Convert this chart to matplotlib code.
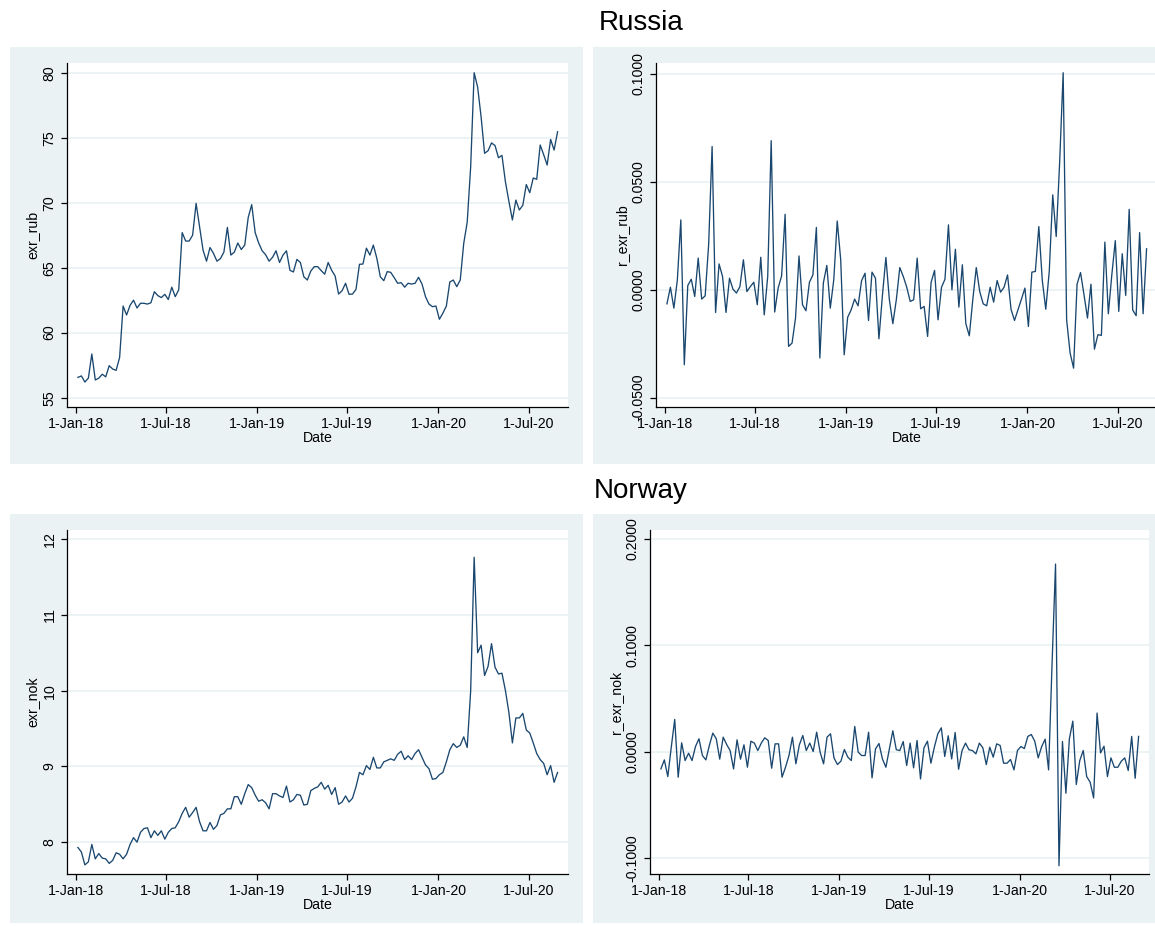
import matplotlib.pyplot as plt
from matplotlib.patches import Rectangle
import pandas as pd

plt.rcParams['font.family'] = ['Liberation Sans', 'DejaVu Sans']

# weekly observations
dates = pd.date_range('2018-01-05', periods=139, freq='7D')

exr_rub = [56.56, 56.67, 56.2, 56.5, 58.36, 56.36, 56.5, 56.8, 56.6, 57.46,
           57.2, 57.1, 58.1, 62.05, 61.36, 62.1, 62.5, 61.9, 62.26, 62.26,
           62.2, 62.3, 63.15, 62.85, 62.7, 62.95, 62.55, 63.5, 62.77, 63.3,
           67.7, 67.05, 67.05, 67.5, 69.95, 68.15, 66.35, 65.5, 66.55, 66.1,
           65.5, 65.7, 66.2, 68.1, 65.97, 66.2, 66.9, 66.4, 66.74, 68.87,
           69.85, 67.7, 66.9, 66.3, 66.0, 65.5, 65.8, 66.3, 65.4, 65.97,
           66.3, 64.8, 64.67, 65.64, 65.4, 64.3, 64.05, 64.74, 65.08, 65.08,
           64.77, 64.5, 65.4, 64.8, 64.36, 62.97, 63.23, 63.8, 62.95, 62.97,
           63.33, 65.26, 65.28, 66.5, 65.97, 66.74, 65.72, 64.3, 64.0, 64.7,
           64.64, 64.23, 63.8, 63.85, 63.5, 63.8, 63.74, 63.8, 64.26, 63.74,
           62.77, 62.2, 62.0, 62.05, 61.03, 61.5, 62.05, 63.9, 64.05, 63.54,
           64.05, 66.87, 68.5, 72.77, 80.0, 78.9, 76.6, 73.8, 74.0, 74.6,
           74.4, 73.46, 73.64, 71.6, 70.1, 68.67, 70.2, 69.44, 69.8, 71.4,
           70.77, 71.9, 71.8, 74.44, 73.7, 72.9, 74.87, 74.05, 75.46]

r_exr_rub = [-0.0065, 0.0012, -0.0085, 0.0046, 0.0324, -0.0347, 0.002, 0.0049, -0.0031, 0.0147,
             -0.0043, -0.0028, 0.0208, 0.0664, -0.0105, 0.012, 0.0062, -0.0105, 0.0054, 0.0003,
             -0.0015, 0.0015, 0.0139, -0.0008, 0.0015, 0.0035, -0.0069, 0.0151, -0.0116, 0.0062,
             0.0691, -0.0103, 0.0008, 0.0065, 0.035, -0.0262, -0.0247, -0.0131, 0.0157, -0.0069,
             -0.0097, 0.0035, 0.0069, 0.0289, -0.0316, 0.0031, 0.0113, -0.0085, 0.0046, 0.0319,
             0.0139, -0.0301, -0.0127, -0.0093, -0.0043, -0.0074, 0.0042, 0.0077, -0.0142, 0.0082,
             0.0054, -0.0227, -0.0026, 0.015, -0.0046, -0.0157, -0.0046, 0.0103, 0.0062, 0.0012,
             -0.0054, -0.0046, 0.0147, -0.0088, -0.0077, -0.0216, 0.0034, 0.009, -0.0139, 0.0012,
             0.0049, 0.0301, 0.0, 0.0188, -0.008, 0.0116, -0.0157, -0.0213, -0.0046, 0.0103,
             -0.0008, -0.0065, -0.0074, 0.0012, -0.0057, 0.0043, -0.0011, 0.0012, 0.0069, -0.009,
             -0.0142, -0.0093, -0.0043, 0.0008, -0.017, 0.0082, 0.0085, 0.0293, 0.0043, -0.009,
             0.0085, 0.044, 0.0247, 0.0594, 0.1006, -0.0139, -0.0293, -0.0363, 0.0026, 0.008,
             -0.0023, -0.0131, 0.0026, -0.0275, -0.0208, -0.0211, 0.0221, -0.0111, 0.0069, 0.0228,
             -0.01, 0.0167, -0.0026, 0.0373, -0.0093, -0.012, 0.0265, -0.0111, 0.019]

exr_nok = [7.93, 7.87, 7.70, 7.74, 7.97, 7.78, 7.85, 7.79, 7.78, 7.72,
           7.76, 7.86, 7.84, 7.78, 7.84, 7.97, 8.06, 8.0, 8.13, 8.18,
           8.19, 8.06, 8.15, 8.09, 8.15, 8.04, 8.13, 8.18, 8.19, 8.27,
           8.38, 8.46, 8.33, 8.39, 8.46, 8.27, 8.15, 8.15, 8.26, 8.17,
           8.22, 8.36, 8.38, 8.44, 8.44, 8.60, 8.60, 8.50, 8.64, 8.76,
           8.72, 8.62, 8.54, 8.56, 8.52, 8.44, 8.64, 8.64, 8.61, 8.59,
           8.74, 8.53, 8.56, 8.63, 8.62, 8.49, 8.50, 8.68, 8.71, 8.73,
           8.79, 8.70, 8.75, 8.63, 8.72, 8.50, 8.53, 8.61, 8.53, 8.58,
           8.73, 8.92, 8.89, 9.01, 8.96, 9.12, 8.98, 8.98, 9.06, 9.08,
           9.10, 9.08, 9.16, 9.20, 9.09, 9.14, 9.09, 9.17, 9.22, 9.12,
           9.02, 8.97, 8.83, 8.84, 8.89, 8.92, 9.06, 9.22, 9.30, 9.25,
           9.28, 9.39, 9.25, 10.0, 11.76, 10.5, 10.6, 10.2, 10.32, 10.62,
           10.31, 10.22, 10.23, 10.0, 9.71, 9.31, 9.64, 9.64, 9.70, 9.48,
           9.44, 9.31, 9.17, 9.09, 9.04, 8.89, 9.01, 8.79, 8.92]

r_exr_nok = [-0.0164, -0.0079, -0.0236, 0.0041, 0.0302, -0.0242, 0.0082, -0.0085, -0.0016, -0.0085,
             0.0047, 0.012, -0.0038, -0.0079, 0.0057, 0.0173, 0.012, -0.0072, 0.0135, 0.0066,
             0.0009, -0.0164, 0.011, -0.0072, 0.0063, -0.0148, 0.0097, 0.0079, 0.0009, 0.0079,
             0.0129, 0.0104, -0.0157, 0.0072, 0.0072, -0.0242, -0.0148, -0.0038, 0.0135, -0.0116,
             0.0063, 0.0151, 0.0009, 0.0079, 0.0, 0.0182, -0.0006, -0.0116, 0.0135, 0.0167,
             -0.006, -0.0123, -0.0091, 0.0019, -0.0053, -0.0085, 0.0236, -0.0006, -0.0038, -0.0038,
             0.0182, -0.0248, 0.0025, 0.0075, -0.007, -0.0148, 0.0025, 0.0195, 0.0017, 0.0009,
             0.0094, -0.0132, 0.0079, -0.0154, 0.0104, -0.0258, 0.0035, 0.0097, -0.011, 0.0041,
             0.0167, 0.0223, -0.0047, 0.0148, -0.007, 0.0179, -0.0167, 0.0009, 0.0079, 0.0016,
             0.0009, -0.0022, 0.0079, 0.0035, -0.0123, 0.0041, -0.0053, 0.0072, 0.0057, -0.011,
             -0.011, -0.0075, -0.0173, 0.0009, 0.0047, 0.0028, 0.0142, 0.016, 0.0097, -0.006,
             0.0047, 0.0116, -0.0173, 0.0827, 0.1764, -0.1075, 0.0094, -0.0393, 0.012, 0.0286,
             -0.0311, -0.0085, 0.0009, -0.0236, -0.0289, -0.0437, 0.0362, -0.0013, 0.005, -0.0236,
             -0.006, -0.0148, -0.0148, -0.0091, -0.006, -0.0179, 0.0142, -0.0252, 0.0142]

tick_dates = pd.to_datetime(['2018-01-01', '2018-07-01', '2019-01-01',
                             '2019-07-01', '2020-01-01', '2020-07-01'])
tick_labels = ['1-Jan-18', '1-Jul-18', '1-Jan-19', '1-Jul-19', '1-Jan-20', '1-Jul-20']

W, H = 1155, 926
bg = '#EAF2F3'
navy = '#1A476F'

fig = plt.figure(figsize=(W / 100, H / 100), dpi=100)


def frac(l, t, r, b):
    return [l / W, 1 - b / H, (r - l) / W, (b - t) / H]


# grey-blue graph regions, behind the axes
for box in [(10, 47, 583, 464), (593, 47, 1160, 464),
            (10, 514, 583, 923), (593, 514, 1160, 923)]:
    x0, y0, w, h = frac(*box)
    fig.patches.append(Rectangle((x0, y0), w, h, transform=fig.transFigure,
                                 facecolor=bg, edgecolor='none', zorder=-5))

fig.text(641 / W, 1 - 23 / H, 'Russia', ha='center', va='center', fontsize=20)
fig.text(641 / W, 1 - 491 / H, 'Norway', ha='center', va='center', fontsize=20)


def panel(box, y, ylabel, yticks, ylim, fmt):
    ax = fig.add_axes(frac(*box))
    ax.set_zorder(1)
    ax.plot(dates, y, color=navy, lw=0.95)
    ax.set_xlim(pd.Timestamp('2017-12-14'), pd.Timestamp('2020-09-18'))
    ax.set_ylim(ylim)
    ax.set_xticks(tick_dates, tick_labels, fontsize=10.2)
    ax.set_yticks(yticks, [fmt.format(v) for v in yticks], fontsize=10.2)
    plt.setp(ax.get_yticklabels(), rotation=90, va='center')
    for v in yticks:
        ax.axhline(v, color=bg, lw=1.3, zorder=0)
    for s in ['top', 'right']:
        ax.spines[s].set_visible(False)
    for s in ['left', 'bottom']:
        ax.spines[s].set_linewidth(0.9)
    ax.tick_params(length=4.3, width=0.9, pad=3.2)
    ax.set_xlabel('Date', fontsize=10.2, labelpad=0)
    ax.set_ylabel(ylabel, fontsize=10.2, labelpad=2)
    return ax


panel((67, 63, 568, 407), exr_rub, 'exr_rub', [55, 60, 65, 70, 75, 80], (54.28, 80.75), '{:.0f}')
panel((656, 63, 1157, 407), r_exr_rub, 'r_exr_rub', [-0.05, 0.0, 0.05, 0.1], (-0.0543, 0.1051), '{:.4f}')
panel((67, 530, 568, 874), exr_nok, 'exr_nok', [8, 9, 10, 11, 12], (7.58, 12.12), '{:.0f}')
panel((650, 530, 1149, 874), r_exr_nok, 'r_exr_nok', [-0.1, 0.0, 0.1, 0.2], (-0.1153, 0.2085), '{:.4f}')

fig.savefig('out.png', dpi=100)
